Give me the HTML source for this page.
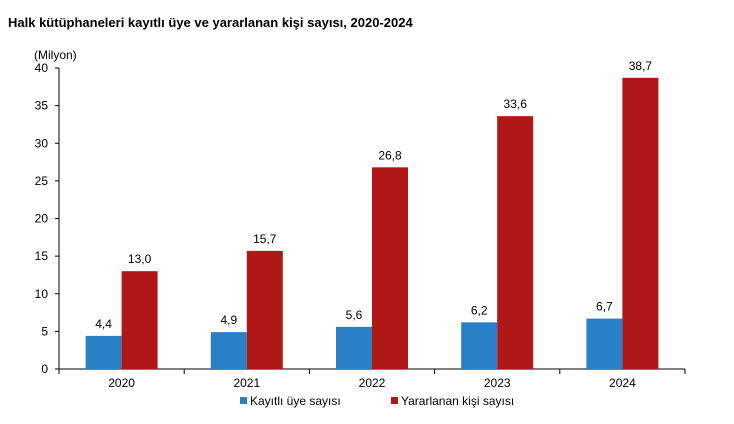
<!DOCTYPE html>
<html><head><meta charset="utf-8"><style>
body{margin:0;background:#fff;font-family:"Liberation Sans",Arial,sans-serif;}
svg text{font-family:"Liberation Sans",Arial,sans-serif;}
</style></head><body>
<svg width="734" height="419" xmlns="http://www.w3.org/2000/svg">
<text x="8" y="27" font-size="13" font-weight="bold" fill="#000">Halk kütüphaneleri kayıtlı üye ve yararlanan kişi sayısı, 2020-2024</text>
<text x="34" y="59" font-size="12" fill="#000">(Milyon)</text>
<g id="axes"></g>
<g id="bars"></g>
<g>
<rect x="240" y="397" width="7" height="7" fill="#2a80c6"/>
<text x="250" y="405" font-size="12">Kayıtlı üye sayısı</text>
<rect x="391" y="397" width="7" height="7" fill="#b01818"/>
<text x="401" y="405" font-size="12">Yararlanan kişi sayısı</text>
</g>
</svg>
<script>
const categories=["2020","2021","2022","2023","2024"];
const members=[4.4,4.9,5.6,6.2,6.7];
const users=[13.0,15.7,26.8,33.6,38.7];
const yTicks=[0,5,10,15,20,25,30,35,40];
const NS="http://www.w3.org/2000/svg";
const x0=59,x1=685,y0=369,y1=68,yMax=40;
const band=(x1-x0)/categories.length, bw=36;
function y(v){return y0-(v/yMax)*(y0-y1);}
function mk(t,a,p){const e=document.createElementNS(NS,t);for(const k in a)e.setAttribute(k,a[k]);p.appendChild(e);return e;}
const ax=document.getElementById('axes'), bg=document.getElementById('bars');
const yl=mk('line',{x1:x0,y1:y1,x2:x0,y2:y0,stroke:'#000','stroke-width':1},ax);


const xl=mk('line',{x1:x0,y1:y0,x2:x1,y2:y0,stroke:'#000','stroke-width':1},ax);


yTicks.forEach(t=>{
 const tk=mk('line',{x1:x0-4,y1:y(t),x2:x0,y2:y(t),stroke:'#000'},ax);
 
 
 const tx=mk('text',{x:x0-11,y:y(t)+4,'font-size':12,'text-anchor':'end'},ax);
 tx.textContent=t;
 
 
});
for(let i=0;i<=categories.length;i++){
 const tk=mk('line',{x1:x0+i*band,y1:y0,x2:x0+i*band,y2:y0+5,stroke:'#000'},ax);
 
 
}
const fmt=v=>v.toFixed(1).replace('.',',');
categories.forEach((c,i)=>{
 const cx=x0+band*(i+0.5);
 const lb=mk('text',{x:cx,y:387,'font-size':12,'text-anchor':'middle'},ax);
 lb.textContent=c;
 
 
 [[members[i],'#2a80c6',cx-bw,'bar-members'],[users[i],'#b01818',cx,'bar-users']].forEach(([v,col,bx,n])=>{
  const r=mk('rect',{x:bx,y:y(v),width:bw,height:y0-y(v),fill:col},bg);
  
  
  const t=mk('text',{x:bx+bw/2,y:y(v)-8,'font-size':12,'text-anchor':'middle'},bg);
  t.textContent=fmt(v);
  
  
 });
});
</script>
</body></html>
